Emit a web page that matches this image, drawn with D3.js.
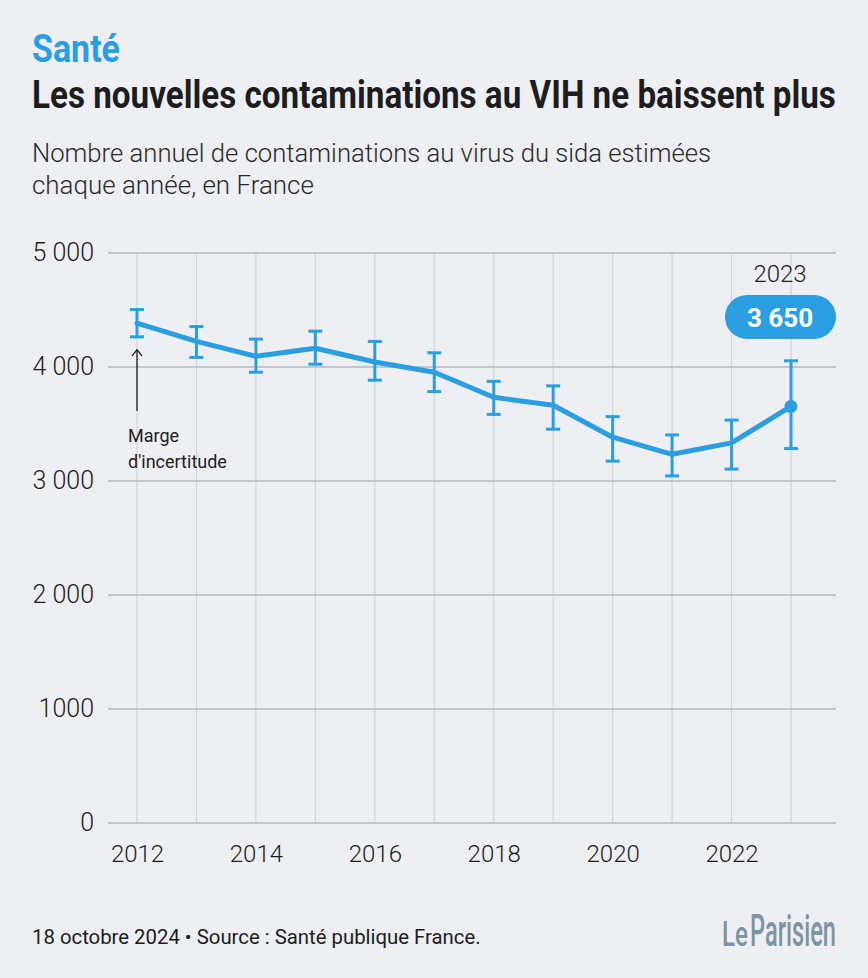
<!DOCTYPE html>
<html lang="fr">
<head>
<meta charset="utf-8">
<title>Les nouvelles contaminations au VIH ne baissent plus</title>
<script src="https://cdn.jsdelivr.net/npm/d3@7"></script>
<style>
  html, body { margin: 0; padding: 0; background: #edeff2; }
  #chart { width: 868px; height: 978px; }
  text { font-family: Roboto, "Noto Sans", sans-serif; }
</style>
</head>
<body>
<div id="chart"></div>
<script>
// Nouvelles contaminations VIH estimées, France (Santé publique France)
const YEARS = [2012, 2013, 2014, 2015, 2016, 2017, 2018, 2019, 2020, 2021, 2022, 2023];
const ESTIMATES = [4380, 4220, 4090, 4160, 4040, 3950, 3730, 3660, 3380, 3230, 3330, 3650];
const LOW = [4260, 4080, 3950, 4020, 3880, 3780, 3580, 3450, 3170, 3040, 3100, 3280];
const HIGH = [4500, 4350, 4240, 4310, 4220, 4120, 3870, 3830, 3560, 3400, 3530, 4050];
const Y_TICKS = [0, 1000, 2000, 3000, 4000, 5000];
const Y_TICK_LABELS = ["0", "1000", "2 000", "3 000", "4 000", "5 000"];
const X_TICKS = [2012, 2014, 2016, 2018, 2020, 2022];

const BLUE = "#2a9ee0";
const INK = "#1d1d1f";

(function () {
  const width = 868, height = 978;
  const svg = d3.select("#chart").append("svg")
    .attr("width", width).attr("height", height);

  svg.append("rect").attr("width", width).attr("height", height).attr("fill", "#edeff2");

  // squeeze a text horizontally so it spans the given width (condensed look)
  function fitText(sel, left, baseline, targetWidth) {
    const natural = sel.node().getComputedTextLength() || targetWidth;
    const k = Math.min(1.03, targetWidth / natural);
    sel.attr("x", 0).attr("y", 0)
      .attr("transform", `translate(${left},${baseline}) scale(${k},1)`);
    return sel;
  }

  // header
  fitText(svg.append("text")
    .attr("font-size", 38).attr("font-weight", 700)
    .attr("fill", BLUE)
    .text("Santé"), 32, 62, 88);

  fitText(svg.append("text")
    .attr("font-size", 39).attr("font-weight", 700)
    .attr("fill", INK)
    .text("Les nouvelles contaminations au VIH ne baissent plus"), 32, 108, 804);

  fitText(svg.append("text")
    .attr("font-size", 26).attr("font-weight", 300)
    .attr("fill", "#2a2a2c")
    .text("Nombre annuel de contaminations au virus du sida estimées"), 32, 162, 679);
  fitText(svg.append("text")
    .attr("font-size", 26).attr("font-weight", 300)
    .attr("fill", "#2a2a2c")
    .text("chaque année, en France"), 32, 194, 282);

  // scales
  const x = d3.scaleLinear().domain([2012, 2023]).range([137, 791]);
  const y = d3.scaleLinear().domain([0, 5000]).range([822.5, 252.5]);
  const gridLeft = 108, gridRight = 836;

  // vertical grid, one line per year
  svg.append("g")
    .selectAll("line")
    .data(YEARS)
    .join("line")
    .attr("x1", (d) => x(d)).attr("x2", (d) => x(d))
    .attr("y1", y(5000)).attr("y2", y(0))
    .attr("stroke", "#d2d5d9").attr("stroke-width", 1.2);

  // y axis with horizontal grid
  const yAxis = svg.append("g")
    .attr("transform", `translate(${gridLeft},0)`)
    .call(d3.axisLeft(y)
      .tickValues(Y_TICKS)
      .tickSize(-(gridRight - gridLeft))
      .tickPadding(14)
      .tickFormat((d, i) => Y_TICK_LABELS[i]));
  yAxis.select(".domain").remove();
  yAxis.selectAll(".tick line").attr("stroke", "#b4b8bd").attr("stroke-width", 1.5);
  yAxis.selectAll(".tick text")
    .attr("font-size", 25).attr("font-weight", 300)
    .attr("fill", INK).attr("font-family", "Roboto, sans-serif");

  // x axis
  const xAxis = svg.append("g")
    .attr("transform", `translate(0,${y(0)})`)
    .call(d3.axisBottom(x).tickValues(X_TICKS).tickSize(0).tickPadding(22).tickFormat(d3.format("d")));
  xAxis.select(".domain").remove();
  xAxis.selectAll(".tick text")
    .attr("font-size", 24).attr("font-weight", 300)
    .attr("fill", INK).attr("font-family", "Roboto, sans-serif");

  const rows = YEARS.map((year, i) => ({ year, value: ESTIMATES[i], low: LOW[i], high: HIGH[i] }));

  // error bars
  const bars = svg.append("g").attr("stroke", BLUE).attr("stroke-width", 3).attr("fill", "none");
  const cap = 7;
  bars.selectAll("g")
    .data(rows)
    .join("g")
    .each(function (d) {
      const g = d3.select(this);
      g.append("line").attr("x1", x(d.year)).attr("x2", x(d.year)).attr("y1", y(d.low)).attr("y2", y(d.high));
      g.append("line").attr("x1", x(d.year) - cap).attr("x2", x(d.year) + cap).attr("y1", y(d.low)).attr("y2", y(d.low));
      g.append("line").attr("x1", x(d.year) - cap).attr("x2", x(d.year) + cap).attr("y1", y(d.high)).attr("y2", y(d.high));
    });

  // main line
  svg.append("path")
    .datum(rows)
    .attr("fill", "none")
    .attr("stroke", BLUE)
    .attr("stroke-width", 5)
    .attr("stroke-linejoin", "round")
    .attr("stroke-linecap", "round")
    .attr("d", d3.line().x((d) => x(d.year)).y((d) => y(d.value)));

  // last point highlight
  const last = rows[rows.length - 1];
  svg.append("circle")
    .attr("cx", x(last.year)).attr("cy", y(last.value)).attr("r", 6.5)
    .attr("fill", BLUE);

  const labelX = x(last.year) - 11;
  svg.append("text")
    .attr("x", labelX).attr("y", 282)
    .attr("text-anchor", "middle")
    .attr("font-size", 24).attr("font-weight", 300)
    .attr("fill", INK)
    .text(String(last.year));

  svg.append("rect")
    .attr("x", labelX - 55).attr("y", 295)
    .attr("width", 111).attr("height", 44)
    .attr("rx", 22)
    .attr("fill", BLUE);

  svg.append("text")
    .attr("x", labelX).attr("y", 327)
    .attr("text-anchor", "middle")
    .attr("font-size", 26).attr("font-weight", 700)
    .attr("fill", "#ffffff")
    .text("3 650");

  // uncertainty annotation
  const first = rows[0];
  const ax = x(first.year);
  svg.append("path")
    .attr("d", `M${ax},${411} L${ax},${y(first.low) + 13}`)
    .attr("stroke", INK).attr("stroke-width", 1.3).attr("fill", "none");
  svg.append("path")
    .attr("d", `M${ax - 5},${y(first.low) + 19} L${ax},${y(first.low) + 13} L${ax + 5},${y(first.low) + 19}`)
    .attr("stroke", INK).attr("stroke-width", 1.3).attr("fill", "none");

  const note = svg.append("text")
    .attr("font-size", 18).attr("font-weight", 400).attr("fill", INK);
  note.append("tspan").attr("x", 128).attr("y", 442).text("Marge");
  note.append("tspan").attr("x", 128).attr("y", 468).text("d'incertitude");

  // footer
  fitText(svg.append("text")
    .attr("font-size", 20).attr("font-weight", 400)
    .attr("fill", INK)
    .text("18 octobre 2024 • Source : Santé publique France."), 32, 944, 449);

  // logo
  fitText(svg.append("text")
    .attr("font-size", 36).attr("font-weight", 500)
    .attr("fill", "#7c95a5")
    .text("Le"), 722, 946, 26);
  fitText(svg.append("text")
    .attr("font-size", 44).attr("font-weight", 500)
    .attr("fill", "#7c95a5")
    .text("Parisien"), 750, 946, 86);
})();
</script>
</body>
</html>
